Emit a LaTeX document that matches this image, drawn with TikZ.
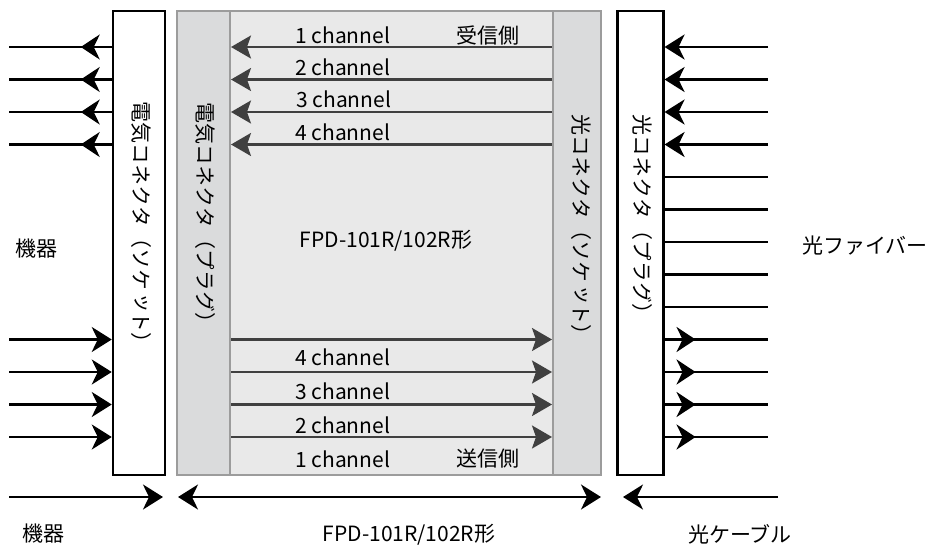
\documentclass[tikz,border=0pt]{standalone}
\usepackage{fontspec}
\setmainfont{Noto Sans CJK JP}
\newfontfamily\tatefont[Vertical=RotatedGlyphs]{Noto Sans CJK JP}
\newcommand{\yoko}[1]{{\normalfont #1}}
\usetikzlibrary{arrows.meta,decorations.markings}

\definecolor{stripgray}{HTML}{DADBDC}
\definecolor{bodygray}{HTML}{E9E9E9}
\definecolor{edgegray}{HTML}{9C9C9C}
\definecolor{changray}{HTML}{404040}

\tikzset{
  box/.style={draw, line width=2.5pt, fill=white, inner sep=0pt, minimum height=464pt},
  strip/.style={draw=edgegray, line width=2pt, fill=stripgray, inner sep=0pt, minimum height=464pt},
  tate/.style={rotate=-90, anchor=west, inner sep=0pt, font=\fontsize{21}{25}\tatefont},
  lbl/.style={font=\fontsize{21}{25}\selectfont, inner sep=0pt},
  wire/.style={line width=2.5pt},
  tip/.style={-{Stealth[length=20pt,width=25pt,inset=6pt]}},
  chan/.style={line width=2.3pt, draw=changray, -{Stealth[length=20pt,width=23pt,inset=4pt]}},
  midtip/.style={postaction={decorate}, decoration={markings,
      mark=at position 31pt with {\arrow{Stealth[length=19pt,width=25pt,inset=6pt]}}}}
}

\begin{document}
\begin{tikzpicture}[x=1pt, y=-1pt]
    \useasboundingbox (0,0) rectangle (931,547);

    %% connector blocks
    \node[box, minimum width=52pt] (sockL) at (139,243) {};
    \node[draw=edgegray, line width=2pt, fill=bodygray, inner sep=0pt,
          minimum width=323pt, minimum height=464pt] (body) at (391.5,243) {};
    \node[strip, minimum width=53pt] (plugL) at (203.5,243) {};
    \node[strip, minimum width=48pt] (sockR) at (577,243) {};
    \node[box, minimum width=46pt] (plugR) at (640.3,243) {};

        \node[tate] (sockLtxt) at (141,101) {電気コネクタ\yoko{（}ソケット\yoko{）}};
        \node[tate] (plugLtxt) at (205,102) {電気コネクタ\yoko{（}プラグ\yoko{）}};
        \node[tate] (sockRtxt) at (581,114) {光コネクタ\yoko{（}ソケット\yoko{）}};
        \node[tate] (plugRtxt) at (642,114) {光コネクタ\yoko{（}プラグ\yoko{）}};

    %% free ends
    \coordinate (kout1) at (9,47);
    \coordinate (kout2) at (9,79.5);
    \coordinate (kout3) at (9,112);
    \coordinate (kout4) at (9,144.5);
    \coordinate (kin1) at (9,339.5);
    \coordinate (kin2) at (9,372);
    \coordinate (kin3) at (9,404.5);
    \coordinate (kin4) at (9,437);

    \coordinate (fib1) at (768,47);
    \coordinate (fib2) at (768,79.5);
    \coordinate (fib3) at (768,112);
    \coordinate (fib4) at (768,144.5);
    \coordinate (fib5) at (768,177);
    \coordinate (fib6) at (768,209.5);
    \coordinate (fib7) at (768,242);
    \coordinate (fib8) at (768,274.5);
    \coordinate (fib9) at (768,307);
    \coordinate (fib10) at (768,339.5);
    \coordinate (fib11) at (768,372);
    \coordinate (fib12) at (768,404.5);
    \coordinate (fib13) at (768,437);

    %% device side
    \draw[wire, midtip] (sockL.west |- kout1) -- (kout1);
    \draw[wire, midtip] (sockL.west |- kout2) -- (kout2);
    \draw[wire, midtip] (sockL.west |- kout3) -- (kout3);
    \draw[wire, midtip] (sockL.west |- kout4) -- (kout4);
    \draw[wire, tip] (kin1) -- (sockL.west |- kin1);
    \draw[wire, tip] (kin2) -- (sockL.west |- kin2);
    \draw[wire, tip] (kin3) -- (sockL.west |- kin3);
    \draw[wire, tip] (kin4) -- (sockL.west |- kin4);

    %% receive channels
    \draw[chan] (sockR.west |- kout1) -- (plugL.east |- kout1);
    \draw[chan] (sockR.west |- kout2) -- (plugL.east |- kout2);
    \draw[chan] (sockR.west |- kout3) -- (plugL.east |- kout3);
    \draw[chan] (sockR.west |- kout4) -- (plugL.east |- kout4);
        \node[lbl, anchor=base west] (rx1) at (295,43) {1 channel};
        \node[lbl, anchor=base west] (rx2) at (295,75) {2 channel};
        \node[lbl, anchor=base west] (rx3) at (296,107) {3 channel};
        \node[lbl, anchor=base west] (rx4) at (295,140) {4 channel};
        \node[lbl, anchor=base] (rx) at (488,43) {受信側};

    %% send channels
    \draw[chan] (plugL.east |- kin1) -- (sockR.west |- kin1);
    \draw[chan] (plugL.east |- kin2) -- (sockR.west |- kin2);
    \draw[chan] (plugL.east |- kin3) -- (sockR.west |- kin3);
    \draw[chan] (plugL.east |- kin4) -- (sockR.west |- kin4);
        \node[lbl, anchor=base west] (tx4) at (295,365) {4 channel};
        \node[lbl, anchor=base west] (tx3) at (295,399) {3 channel};
        \node[lbl, anchor=base west] (tx2) at (295,433) {2 channel};
        \node[lbl, anchor=base west] (tx1) at (295,467) {1 channel};
        \node[lbl, anchor=base] (tx) at (488,466) {送信側};

        \node[lbl] (model) at (386,241) {FPD-101R/102R形};

    %% fiber side
    \draw[wire, tip] (fib1) -- (plugR.east |- fib1);
    \draw[wire, tip] (fib2) -- (plugR.east |- fib2);
    \draw[wire, tip] (fib3) -- (plugR.east |- fib3);
    \draw[wire, tip] (fib4) -- (plugR.east |- fib4);
    \draw[wire] (plugR.east |- fib5) -- (fib5);
    \draw[wire] (plugR.east |- fib6) -- (fib6);
    \draw[wire] (plugR.east |- fib7) -- (fib7);
    \draw[wire] (plugR.east |- fib8) -- (fib8);
    \draw[wire] (plugR.east |- fib9) -- (fib9);
    \draw[wire, midtip] (plugR.east |- fib10) -- (fib10);
    \draw[wire, midtip] (plugR.east |- fib11) -- (fib11);
    \draw[wire, midtip] (plugR.east |- fib12) -- (fib12);
    \draw[wire, midtip] (plugR.east |- fib13) -- (fib13);

        \node[lbl] (kiki) at (36,249) {機器};
        \node[lbl, anchor=west] (fiber) at (802,246) {光ファイバー};

    %% extents
    \coordinate (kikiL) at (9,497);
    \coordinate (kikiR) at (163,497);
    \coordinate (cabL) at (623,497);
    \coordinate (cabR) at (778,497);
    \draw[wire, tip] (kikiL) -- (kikiR);
    \draw[wire, {Stealth[length=20pt,width=25pt,inset=6pt]}-{Stealth[length=20pt,width=25pt,inset=6pt]}]
        ([xshift=2pt]plugL.west |- kikiL) -- ([xshift=-1pt]sockR.east |- kikiL);
    \draw[wire, tip] (cabR) -- (cabL);

        \node[lbl] (kikibot) at (44,534) {機器};
        \node[lbl] (modelbot) at (409,535) {FPD-101R/102R形};
        \node[lbl] (cable) at (740,534) {光ケーブル};

\end{tikzpicture}
\end{document}
